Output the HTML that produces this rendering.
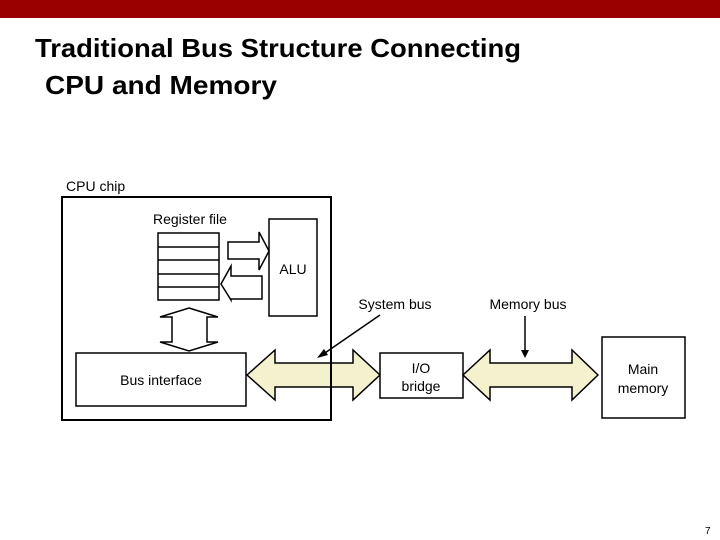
<!DOCTYPE html>
<html><head><meta charset="utf-8"><style>
html,body{margin:0;padding:0;background:#fff;}
svg{display:block;}
</style></head><body>
<svg width="720" height="540" viewBox="0 0 720 540" xmlns="http://www.w3.org/2000/svg" font-family="Liberation Sans, Arial, sans-serif">
<rect x="0" y="0" width="720" height="18" fill="#990000"/>
<text x="35" y="57" font-size="26" font-weight="bold" textLength="486" lengthAdjust="spacingAndGlyphs">Traditional Bus Structure Connecting</text>
<text x="45" y="94" font-size="26" font-weight="bold" textLength="232" lengthAdjust="spacingAndGlyphs">CPU and Memory</text>

<text x="66" y="191" font-size="14">CPU chip</text>
<rect x="62" y="197" width="269" height="223" fill="none" stroke="#000" stroke-width="2"/>

<text x="153" y="224" font-size="14">Register file</text>
<rect x="158" y="233" width="61" height="67" fill="#fff" stroke="#000" stroke-width="1.5"/>
<line x1="158" y1="247" x2="219" y2="247" stroke="#000" stroke-width="1.5"/>
<line x1="158" y1="260" x2="219" y2="260" stroke="#000" stroke-width="1.5"/>
<line x1="158" y1="274" x2="219" y2="274" stroke="#000" stroke-width="1.5"/>
<line x1="158" y1="287" x2="219" y2="287" stroke="#000" stroke-width="1.5"/>

<rect x="269" y="219" width="48" height="97" fill="#fff" stroke="#000" stroke-width="1.5"/>
<text x="293" y="274" font-size="14" text-anchor="middle">ALU</text>

<polygon points="228,242 259,242 259,232 269,251 259,270 259,259 228,259" fill="#fff" stroke="#000" stroke-width="1.5"/>
<polygon points="262,276 231,276 231,266 221,284 231,300 231,299 262,299" fill="#fff" stroke="#000" stroke-width="1.5"/>

<polygon points="189,308 218,317 207,317 207,342 218,342 189,351 160,342 172,342 172,317 160,317" fill="#fff" stroke="#000" stroke-width="1.5"/>

<rect x="76" y="353" width="170" height="53" fill="#fff" stroke="#000" stroke-width="1.5"/>
<text x="161" y="385" font-size="14" text-anchor="middle">Bus interface</text>

<polygon points="247,375 275,350 275,363 353,363 353,350 380,375 353,400 353,387 275,387 275,400" fill="#f4f1cf" stroke="#000" stroke-width="1.5"/>
<line x1="331" y1="363" x2="331" y2="387" stroke="#000" stroke-width="2"/>

<rect x="380" y="353" width="83" height="45" fill="#fff" stroke="#000" stroke-width="1.5"/>
<text x="421" y="373" font-size="14" text-anchor="middle">I/O</text>
<text x="421" y="391" font-size="14" text-anchor="middle">bridge</text>

<polygon points="463,375 490,350 490,363 572,363 572,350 598,375 572,400 572,387 490,387 490,400" fill="#f4f1cf" stroke="#000" stroke-width="1.5"/>

<rect x="602" y="337" width="83" height="81" fill="#fff" stroke="#000" stroke-width="1.5"/>
<text x="643" y="374" font-size="14" text-anchor="middle">Main</text>
<text x="643" y="393" font-size="14" text-anchor="middle">memory</text>

<text x="395" y="309" font-size="14" text-anchor="middle">System bus</text>
<line x1="380" y1="315" x2="322" y2="355" stroke="#000" stroke-width="1.5"/>
<polygon points="317,358 324,349 328,355" fill="#000"/>
<text x="528" y="309" font-size="14" text-anchor="middle">Memory bus</text>
<line x1="525" y1="316" x2="525" y2="352" stroke="#000" stroke-width="1.5"/>
<polygon points="521,350 529,350 525,358" fill="#000"/>

<text x="705" y="534" font-size="10">7</text>
</svg>
</body></html>
